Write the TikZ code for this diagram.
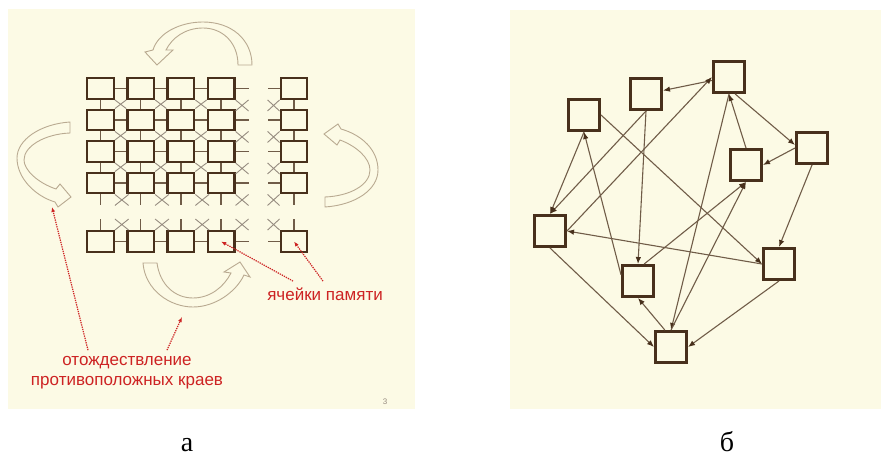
\documentclass[tikz,border=0pt]{standalone}
\usepackage{fontspec}
\setmainfont{Liberation Serif}
\newfontfamily\labelfont{Liberation Sans}
\usetikzlibrary{arrows.meta}
\definecolor{paper}{RGB}{252,250,229}
\definecolor{cellbrown}{RGB}{72,48,28}
\definecolor{linkbrown}{RGB}{112,92,72}
\definecolor{crossgray}{RGB}{150,140,128}
\definecolor{arrowtan}{RGB}{185,170,145}
\definecolor{notered}{RGB}{205,35,35}

\begin{document}
\begin{tikzpicture}[x=1pt,y=-1pt,
  cell/.style={draw=cellbrown,line width=2.4pt,fill=paper,minimum width=26.5pt,minimum height=20.5pt,inner sep=0pt},
  vertex/.style={draw=cellbrown,line width=3pt,fill=paper,minimum size=31pt,inner sep=0pt},
  gridlink/.style={draw=linkbrown,line width=1.3pt},
  diag/.style={draw=crossgray,line width=0.9pt},
  conn/.style={draw=linkbrown,line width=1.1pt,-{Latex[length=7pt,width=5.5pt,color=cellbrown]}},
  bendarrow/.style={draw=arrowtan,line width=0.9pt,fill=paper},
  note/.style={draw=notered,line width=1.2pt,dash pattern=on 1.3pt off 1pt,-{Latex[length=5pt,width=4pt]}},
  notetext/.style={text=notered,font=\labelfont\fontsize{17}{20}\selectfont,align=center}]
  \useasboundingbox (0,0) rectangle (881,457);
  % Backgrounds of the two panels
  \fill[paper] (8,9) rectangle (415,409);
  \fill[paper] (510,10) rectangle (881,409);

  % Memory cells (a)
  \foreach \r/\y in {1/88.5,2/120,3/151.5,4/183,5/241.5}
    \foreach \c/\x in {1/100.5,2/140.7,3/180.9,4/221.1,5/294}
      \node[cell] (m\r\c) at (\x,\y) {};
  % Links between neighbours
  \foreach \r in {1,...,5}
    \foreach \c/\d in {1/2,2/3,3/4}
      \draw[gridlink] (m\r\c) -- (m\r\d);
  \foreach \c in {1,...,5}
    \foreach \r/\n in {1/2,2/3,3/4}
      \draw[gridlink] (m\r\c) -- (m\n\c);
  \foreach \r/\n in {1/2,2/3,3/4}
    \foreach \c/\d in {1/2,2/3,3/4}
      \draw[diag] (m\r\c.south east) -- (m\n\d.north west) (m\r\d.south west) -- (m\n\c.north east);
  % Broken links at the gaps
  \foreach \r in {1,...,5} {
    \draw[gridlink] (m\r4.east) -- ++(13,0);
    \draw[gridlink] (m\r5.west) -- ++(-12,0);
  }
  \foreach \c in {1,...,5} {
    \draw[gridlink] (m4\c.south) -- ++(0,11);
    \draw[gridlink] (m5\c.north) -- ++(0,-11);
  }
  \foreach \r in {1,...,4} {
    \draw[diag] (m\r4.south east) -- ++(13,11) ++(-13,0) -- ++(13,-11);
    \draw[diag] (m\r5.south west) -- ++(-12,11) ++(12,0) -- ++(-12,-11);
  }
  \draw[diag] (m54.north east) -- ++(13,-11) ++(-13,0) -- ++(13,11);
  \draw[diag] (m55.north west) -- ++(-12,-11) ++(12,0) -- ++(-12,11);
  \foreach \c in {1,2,3} {
    \draw[diag] (m4\c.south east) -- ++(13.7,11) ++(-13.7,0) -- ++(13.7,-11);
    \draw[diag] (m5\c.north east) -- ++(13.7,-11) ++(-13.7,0) -- ++(13.7,11);
  }

  % Curved arrows (opposite edges)
  \draw[bendarrow] (238,65) .. controls (238,42) and (222,28) .. (203,28)
    .. controls (185,28) and (172,38) .. (166,50) -- (173,50) -- (157,65) -- (145,52) -- (153,50)
    .. controls (158,33) and (180,22) .. (203,22) .. controls (232,22) and (252,40) .. (252,65) -- cycle;
  \draw[bendarrow] (70,122) .. controls (40,124) and (17,140) .. (17,158)
    .. controls (17,178) and (35,196) .. (55,202) -- (58,207) -- (71,197) -- (60,184) -- (56,189)
    .. controls (38,183) and (24,170) .. (24,160) .. controls (24,146) and (45,134) .. (70,133) -- cycle;
  \draw[bendarrow] (325,207) .. controls (355,205) and (378,190) .. (378,170)
    .. controls (378,150) and (362,135) .. (341,129) -- (338,124) -- (324,134) -- (337,145) -- (340,140)
    .. controls (356,146) and (370,158) .. (370,170) .. controls (370,185) and (350,196) .. (325,197) -- cycle;
  \draw[bendarrow] (143,263) .. controls (145,290) and (170,307) .. (193,307)
    .. controls (215,307) and (236,292) .. (244,275) -- (250,277) -- (240,262) -- (224,272) -- (231,273)
    .. controls (224,287) and (210,298) .. (193,298) .. controls (175,298) and (160,285) .. (157,263) -- cycle;

  % Labels with pointers
  \node[notetext] (cells) at (325,294) {ячейки памяти};
  \draw[note] ([shift={(-32,-3)}]cells.north) -- (m54.center);
  \draw[note] ([shift={(-2,-3)}]cells.north) -- (m55.center);
  \node[notetext] (edges) at (127,373) {отождествление\\противоположных краев};
  \coordinate (leftend) at (52,207);
  \coordinate (bottomend) at (182,317);
  \draw[note] ([shift={(-39,-3)}]edges.north) -- (leftend);
  \draw[note] ([shift={(40,-3)}]edges.north) -- (bottomend);
  \node[text=crossgray,font=\labelfont\fontsize{8}{9}\selectfont] (pagenum) at (385,402) {3};

  % Graph (b)
  \node[vertex] (v1) at (584,115) {};
  \node[vertex] (v2) at (646,94) {};
  \node[vertex] (v3) at (729,77) {};
  \node[vertex] (v4) at (812,148) {};
  \node[vertex] (v5) at (746,165) {};
  \node[vertex] (v6) at (550,231) {};
  \node[vertex] (v7) at (638,281) {};
  \node[vertex] (v8) at (779,264) {};
  \node[vertex] (v9) at (671,347) {};
  \foreach \s/\t in {v3/v2, v6.east/v3.west, v2.south/v6.north, v1.south/v6.north,
      v7.160/v1.south, v1.east/v8.west, v2.south/v7.north, v5.north/v3.south,
      v3.-70/v4.170, v4.west/v5.east, v4.south/v8.north, v7.70/v5.south,
      v3.south/v9.north, v9.north/v5.south, v9.110/v7.south, v6.south/v9.west,
      v8.south/v9.east, v8.west/v6.east}
    \draw[conn] (\s) -- (\t);

  % Captions
  \node[font=\fontsize{28}{30}\selectfont,anchor=base] (capa) at (187,451) {а};
  \node[font=\fontsize{28}{30}\selectfont,anchor=base] (capb) at (727,451) {б};
\end{tikzpicture}
\end{document}
